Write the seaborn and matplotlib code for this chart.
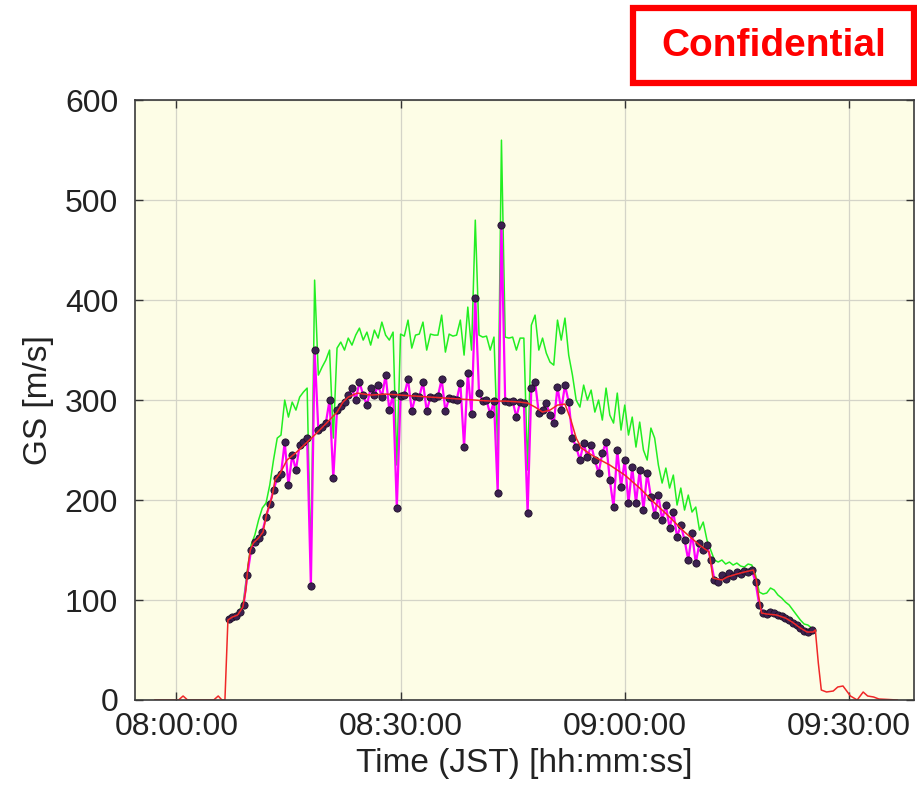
import matplotlib
matplotlib.use("Agg")
import numpy as np
import pandas as pd
import seaborn as sns
import matplotlib.pyplot as plt
import matplotlib.dates as mdates
from matplotlib.patches import Rectangle

# tempi in minuti dopo le 08:00 (JST)
red_t = [-2.9, 0.3, 0.9, 1.5, 5.0, 5.6, 6.1, 6.5, 6.9, 7.5,
         8.2, 8.9, 9.3, 9.6, 9.9, 10.3, 11.0, 11.6, 12.1, 12.8,
         13.2, 13.9, 14.8, 16.1, 17.5, 18.5, 20.1, 21.5, 22.3, 23.0,
         24.2, 26, 28, 30, 32, 34, 36, 38, 40, 42,
         44, 46, 47, 48, 49, 50, 51, 52, 52.8, 53.5,
         54.2, 56, 58, 60, 62, 64, 66, 68, 70, 71.3,
         71.8, 73, 73.7, 75, 76, 77.2, 77.6, 78, 78.3, 79,
         80.3, 81.5, 82.4, 83.5, 84.4, 85.2, 85.5, 85.9, 86.3, 87,
         87.9, 88.5, 89.2, 90.2, 91.1, 91.9, 92.5, 93.3, 94, 96.5]
red_gs = [0, 0, 4, 0, 0, 4, 0, 0, 80, 83,
          85, 93, 110, 135, 150, 157, 162, 168, 187, 203,
          220, 227, 240, 248, 258, 265, 277, 288, 298, 303,
          307, 305, 306, 305, 304, 303, 302, 301, 300, 299,
          299, 298, 297, 293, 288, 290, 295, 296, 280, 262,
          252, 243, 235, 225, 212, 197, 183, 168, 155, 148,
          122, 120, 123, 126, 128, 130, 120, 100, 87, 86,
          85, 82, 78, 72, 68, 68, 70, 37, 10, 8,
          9, 13, 14, 4, 0, 8, 4, 3, 1, 0]

# campionamento ogni 30 s a partire da 08:07:00
samp_start = 7.0
samp_step = 0.5

mag_gs = [81, 83, 84, 88, 95, 125, 150, 158, 162, 168,
          183, 196, 210, 222, 226, 258, 215, 245, 230, 255,
          258, 262, 114, 350, 270, 273, 277, 300, 222, 290,
          294, 298, 305, 312, 300, 318, 305, 295, 312, 305,
          315, 303, 325, 290, 306, 192, 304, 305, 321, 289,
          304, 303, 318, 289, 303, 302, 304, 321, 289, 302,
          301, 300, 317, 253, 327, 286, 402, 307, 299, 300,
          286, 299, 207, 475, 299, 298, 299, 283, 298, 297,
          187, 312, 318, 287, 290, 297, 285, 277, 313, 290,
          315, 298, 262, 253, 240, 257, 243, 255, 240, 227,
          247, 258, 220, 193, 250, 213, 240, 197, 233, 197,
          230, 190, 227, 203, 185, 205, 180, 195, 172, 188,
          163, 175, 160, 140, 167, 137, 157, 150, 155, 140,
          120, 118, 125, 121, 127, 124, 128, 126, 129, 128,
          130, 118, 95, 87, 86, 88, 87, 85, 84, 82,
          80, 77, 75, 72, 69, 68, 70]

green_gs = [82, 84, 86, 90, 100, 130, 155, 165, 180, 192,
            197, 215, 240, 262, 265, 300, 283, 298, 290, 303,
            308, 312, 135, 420, 325, 333, 340, 350, 262, 352,
            358, 350, 362, 355, 365, 372, 360, 368, 355, 370,
            362, 378, 365, 360, 368, 235, 366, 364, 380, 352,
            365, 366, 378, 350, 366, 365, 365, 385, 348, 366,
            364, 365, 380, 345, 393, 350, 480, 365, 363, 364,
            350, 363, 250, 560, 363, 362, 363, 350, 362, 362,
            230, 375, 385, 350, 362, 347, 338, 335, 380, 360,
            382, 345, 325, 300, 293, 315, 300, 310, 288, 300,
            280, 312, 285, 277, 307, 270, 295, 265, 283, 253,
            278, 250, 240, 272, 262, 235, 217, 232, 212, 225,
            195, 212, 190, 205, 188, 193, 170, 178, 160, 150,
            140, 138, 140, 136, 138, 135, 137, 134, 133, 136,
            135, 125, 108, 106, 107, 112, 110, 105, 102, 98,
            95, 90, 85, 80, 76, 75, 72]

x_ticks_min = [0, 30, 60, 90]
y_ticks = [0, 100, 200, 300, 400, 500, 600]

base = pd.Timestamp("2021-01-01 08:00:00")


def in_orario(minuti):
    return base + pd.to_timedelta(np.asarray(minuti, dtype=float), unit="m")


samp_min = samp_start + samp_step * np.arange(len(mag_gs))
df_red = pd.DataFrame({"time": in_orario(red_t), "gs": red_gs})
df_mag = pd.DataFrame({"time": in_orario(samp_min), "gs": mag_gs})
df_green = pd.DataFrame({"time": in_orario(samp_min), "gs": green_gs})

sns.set_theme(style="ticks")
plt.rcParams["font.family"] = ["Liberation Sans", "DejaVu Sans"]

fig = plt.figure(figsize=(9.17, 7.95), dpi=100)
ax = fig.add_axes([0.147, 0.1195, 0.8497, 0.7545])
ax.set_facecolor("#FDFDE6")
ax.set_axisbelow(True)
ax.grid(True, color="#D4D4C8", lw=0.9)

sns.lineplot(data=df_green, x="time", y="gs", color="#22EE22", lw=1.1,
             estimator=None, ax=ax)
sns.lineplot(data=df_mag, x="time", y="gs", color="#FF00FF", lw=1.6,
             marker="o", markersize=5.2, markerfacecolor="#3C2150",
             markeredgecolor="#1E1028", markeredgewidth=0.6,
             estimator=None, ax=ax)
sns.lineplot(data=df_red, x="time", y="gs", color="#F02828", lw=1.1,
             estimator=None, ax=ax)

ax.set_xlim(in_orario(-5.56), in_orario(98.7))
ax.set_ylim(0, 600)
ax.set_xticks(in_orario(x_ticks_min))
ax.xaxis.set_major_formatter(mdates.DateFormatter("%H:%M:%S"))
ax.set_yticks(y_ticks)
ax.tick_params(direction="in", top=True, right=True, length=6, width=1,
               labelsize=23, labelcolor="#222222", color="#333333")
ax.tick_params(axis="x", pad=9)
ax.tick_params(axis="y", pad=12)
for s in ax.spines.values():
    s.set_color("#3A3A3A")
    s.set_linewidth(1.2)

ax.set_xlabel("Time (JST) [hh:mm:ss]", fontsize=24, color="#222222", labelpad=4)
ax.set_ylabel("GS [m/s]", fontsize=24, color="#222222", labelpad=8)

# riquadro "Confidential"
fig.add_artist(Rectangle((633 / 917, 1 - 83 / 795), (914 - 633) / 917, 75 / 795,
                         transform=fig.transFigure, fill=False,
                         ec="#FF0000", lw=4.5))
fig.text(774 / 917, 1 - 46 / 795, "Confidential", color="#FF0000",
         fontsize=28, fontweight="bold", ha="center", va="center")

fig.savefig("out.png", dpi=100)
